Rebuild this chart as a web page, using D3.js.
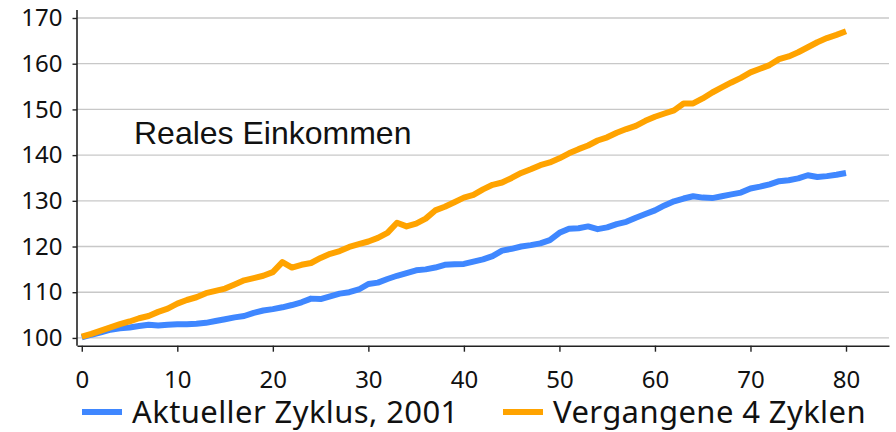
<!DOCTYPE html>
<html>
<head>
<meta charset="utf-8">
<script src="https://cdn.jsdelivr.net/npm/d3@7"></script>
<style>
	body { margin: 0; background: #fff; }
</style>
</head>
<body>
<div class="canvas"></div>
<script>

// quarters since cycle start
const quarters = d3.range(0, 81);

// current cycle, 2001
const aktuell = [
	100.1, 100.7, 101.2, 101.8, 102.1, 102.3, 102.6, 102.9, 102.7, 102.9,
	103.0, 103.0, 103.1, 103.3, 103.7, 104.1, 104.5, 104.8, 105.5, 106.0,
	106.3, 106.7, 107.2, 107.8, 108.6, 108.5, 109.1, 109.7, 110.0, 110.6,
	111.8, 112.1, 112.9, 113.6, 114.2, 114.8, 115.0, 115.4, 116.0, 116.1,
	116.2, 116.7, 117.2, 117.9, 119.1, 119.5, 120.0, 120.3, 120.7, 121.4,
	123.0, 123.9, 124.0, 124.4, 123.8, 124.2, 124.9, 125.4, 126.3, 127.1,
	127.9, 129.0, 129.9, 130.5, 131.0, 130.7, 130.6, 131.0, 131.4, 131.8,
	132.7, 133.1, 133.6, 134.3, 134.5, 134.9, 135.6, 135.2, 135.4, 135.7,
	136.1
];

// average of past 4 cycles
const vergangen = [
	100.3, 100.9, 101.6, 102.3, 103.0, 103.6, 104.3, 104.8, 105.7, 106.4,
	107.5, 108.3, 108.9, 109.8, 110.3, 110.8, 111.7, 112.6, 113.1, 113.6,
	114.4, 116.6, 115.4, 116.0, 116.4, 117.5, 118.4, 119.0, 119.9, 120.5,
	121.1, 121.9, 123.0, 125.2, 124.4, 125.0, 126.1, 127.9, 128.7, 129.7,
	130.7, 131.3, 132.5, 133.5, 134.0, 135.0, 136.1, 136.9, 137.8, 138.4,
	139.3, 140.4, 141.3, 142.1, 143.2, 143.9, 144.9, 145.7, 146.4, 147.5,
	148.4, 149.1, 149.8, 151.3, 151.3, 152.4, 153.7, 154.8, 155.9, 156.9,
	158.1, 158.9, 159.7, 161.0, 161.6, 162.5, 163.6, 164.7, 165.6, 166.3,
	167.1
];

const yTicks = [100, 110, 120, 130, 140, 150, 160, 170];
const xTicks = [0, 10, 20, 30, 40, 50, 60, 70, 80];
const seriesNames = ['Aktueller Zyklus, 2001', 'Vergangene 4 Zyklen'];
const seriesColours = ['#3f87ff', '#ffa300'];
const title = 'Reales Einkommen';

const dims = {width: 896, height: 432};
const plot = {left: 77, right: 889, top: 10, bottom: 345.7};
const tickFont = '"Noto Sans", "Open Sans", sans-serif';

const svg = d3.select('.canvas')
	.append('svg')
	.attr('width', dims.width)
	.attr('height', dims.height);

// scales
const x = d3.scaleLinear()
	.domain([-0.5, 84.5])
	.range([plot.left, plot.right]);

const y = d3.scaleLinear()
	.domain([98.3, 171.75])
	.range([plot.bottom, plot.top]);

// gridlines
svg.append('g')
	.selectAll('line')
	.data(yTicks)
	.enter()
	.append('line')
		.attr('x1', plot.left)
		.attr('x2', plot.right)
		.attr('y1', d => y(d))
		.attr('y2', d => y(d))
		.attr('stroke', '#c8c8c8')
		.attr('stroke-width', 1.3);

// y axis
const yAxis = svg.append('g')
	.attr('transform', `translate(${plot.left}, 0)`)
	.call(d3.axisLeft(y).tickValues(yTicks).tickSize(4.5).tickPadding(10).tickSizeOuter(0));

// x axis
const xAxis = svg.append('g')
	.attr('transform', `translate(0, ${plot.bottom})`)
	.call(d3.axisBottom(x).tickValues(xTicks).tickSize(6).tickPadding(19).tickSizeOuter(0));

[yAxis, xAxis].forEach(ax => {
	ax.select('.domain').attr('stroke', '#222').attr('stroke-width', 1.6);
	ax.selectAll('.tick line').attr('stroke', '#222').attr('stroke-width', 1.4);
	ax.selectAll('.tick text')
		.attr('fill', '#111')
		.style('font-family', tickFont)
		.style('font-size', '24px');
});

// make y axis reach the top
yAxis.select('.domain').attr('d', `M0,${plot.top}V${plot.bottom}`);

// lines
const line = d3.line()
	.x((d, i) => x(quarters[i]))
	.y(d => y(d));

[aktuell, vergangen].forEach((series, i) => {
	svg.append('path')
		.datum(series)
		.attr('fill', 'none')
		.attr('stroke', seriesColours[i])
		.attr('stroke-width', 6)
		.attr('stroke-linejoin', 'round')
		.attr('d', line);
});

// title in plot
svg.append('text')
	.attr('x', 134)
	.attr('y', 143.5)
	.attr('fill', '#111')
	.style('font-family', '"Liberation Sans", Arial, sans-serif')
	.style('font-size', '32px')
	.text(title);

// legend
const legendPos = [82, 503];
const legend = svg.append('g')
	.selectAll('g')
	.data(seriesNames)
	.enter()
	.append('g')
		.attr('transform', (d, i) => `translate(${legendPos[i]}, 412)`);

legend.append('line')
	.attr('x1', 0)
	.attr('x2', 40)
	.attr('stroke', (d, i) => seriesColours[i])
	.attr('stroke-width', 6);

legend.append('text')
	.attr('x', 50)
	.attr('y', 11)
	.attr('fill', '#111')
	.style('font-family', tickFont)
	.style('font-size', '31px')
	.style('letter-spacing', '0.4px')
	.text(d => d);

</script>
</body>
</html>
